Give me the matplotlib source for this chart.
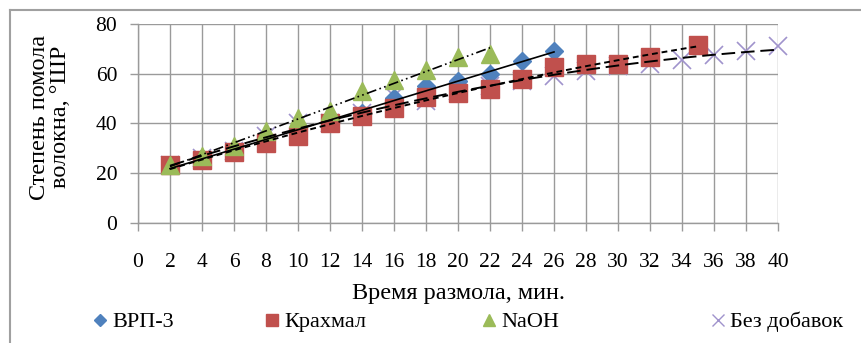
import numpy as np
import matplotlib
matplotlib.use("Agg")
import matplotlib.pyplot as plt
from matplotlib.lines import Line2D

plt.rcParams['font.family'] = ['Liberation Serif', 'DejaVu Serif']

# Data
x_vrp = [2, 4, 6, 8, 10, 12, 14, 16, 18, 20, 22, 24, 26]
y_vrp = [23, 26, 29, 33, 37, 40, 44, 50, 55, 57, 60, 65, 69]

x_kr = [2, 4, 6, 8, 10, 12, 14, 16, 18, 20, 22, 24, 26, 28, 30, 32, 35]
y_kr = [23, 25, 28.5, 32, 35, 40, 43, 46, 50.5, 52, 54, 58, 62.5, 64, 64, 66.5, 71.5]

x_naoh = [2, 4, 6, 8, 10, 12, 14, 16, 18, 20, 22]
y_naoh = [23, 27, 31, 37, 42, 45, 53, 57.5, 61.5, 66.5, 68]

x_bez = [2, 4, 6, 8, 10, 12, 14, 16, 18, 20, 22, 24, 26, 28, 30, 32, 34, 36, 38, 40]
y_bez = [23, 26, 29, 35, 40, 40, 44, 51, 49, 53, 55, 57, 59, 61, 63, 64, 65.5, 67.5, 69, 71]

labels = ['ВРП-3', 'Крахмал', 'NaOH', 'Без добавок']
xticks = list(range(0, 41, 2))
yticks = [0, 20, 40, 60, 80]

c_blue = '#4F81BD'
c_red = '#C0504D'
c_green = '#9BBB59'
c_purple = '#A093CC'
grid_c = '#9a9a9a'

W, H = 861, 343
fig = plt.figure(figsize=(W/100, H/100), dpi=100)
ax = fig.add_axes([138/W, 1-222.5/H, (778-138)/W, (222.5-24)/H])

ax.set_xlim(0, 40)
ax.set_ylim(0, 80)
ax.set_xticks(xticks)
ax.set_yticks(yticks)
ax.grid(True, color=grid_c, lw=1.0)
ax.set_axisbelow(True)
for s in ['top', 'right']:
    ax.spines[s].set_visible(False)
for s in ['left', 'bottom']:
    ax.spines[s].set_color(grid_c)
    ax.spines[s].set_linewidth(1.0)
ax.tick_params(axis='both', colors=grid_c, length=6, width=1.0, labelcolor='black', labelsize=15.5)
ax.tick_params(axis='x', pad=16)
ax.tick_params(axis='y', pad=9)

# markers
ax.plot(x_bez, y_bez, ls='none', marker='x', ms=13, mew=1.2, color=c_purple, clip_on=False, zorder=3)
ax.plot(x_vrp, y_vrp, ls='none', marker='D', ms=9.5, color=c_blue, zorder=4, clip_on=False)
ax.plot(x_kr, y_kr, ls='none', marker='s', ms=13.5, color=c_red, zorder=5, clip_on=False)
ax.plot(x_naoh, y_naoh, ls='none', marker='^', ms=13.5, color=c_green, zorder=6, clip_on=False)

# trendlines (fitted to the data)
def trend(xs, ys, deg, **kw):
    p = np.polyfit(xs, ys, deg)
    xx = np.linspace(xs[0], xs[-1], 100)
    ax.plot(xx, np.polyval(p, xx), color='black', zorder=7, clip_on=False, **kw)

trend(x_vrp, y_vrp, 1, lw=1.2, ls='-')
trend(x_kr, y_kr, 2, lw=1.4, ls=(0, (3, 2)))
trend(x_naoh, y_naoh, 1, lw=1.2, ls=(0, (6, 2, 1, 2, 1, 2)))
trend(x_bez, y_bez, 2, lw=1.4, ls=(0, (7, 3)))

ax.set_xlabel('Время размола, мин.', fontsize=17.5)
ax.xaxis.set_label_coords(0.5, -(293-222.5)/198.5, transform=ax.transAxes)
ax.xaxis.label.set_va('center')
ax.set_ylabel('Степень помола\nволокна, °ШР', fontsize=17.5, linespacing=1.05)
ax.yaxis.set_label_coords(-(138-50)/640, (222.5-117)/198.5)
ax.yaxis.label.set_va('center')

# legend: one entry each, placed like the original
handles = [
    Line2D([], [], ls='none', marker='D', ms=6, color=c_blue),
    Line2D([], [], ls='none', marker='s', ms=9, color=c_red),
    Line2D([], [], ls='none', marker='^', ms=9, color=c_green),
    Line2D([], [], ls='none', marker='x', ms=9, mew=1.0, color=c_purple),
]
marker_px = [100, 272, 489, 718]
for h, lab, mx in zip(handles, labels, marker_px):
    fig.legend([h], [lab], loc='center left', bbox_to_anchor=((mx - 7) / W, 1 - 322 / H),
               frameon=False, prop={'family': ['Liberation Serif', 'DejaVu Serif'], 'size': 16},
               handlelength=0.6, handletextpad=0.25, borderpad=0, borderaxespad=0)

# outer chart border (left and top)
fig.add_artist(Line2D([10/W, 10/W], [0, 1-10/H], color='#a0a0a0', lw=1.5, transform=fig.transFigure))
fig.add_artist(Line2D([10/W, 1], [1-10/H, 1-10/H], color='#a0a0a0', lw=1.5, transform=fig.transFigure))

fig.savefig('out.png', dpi=100)
